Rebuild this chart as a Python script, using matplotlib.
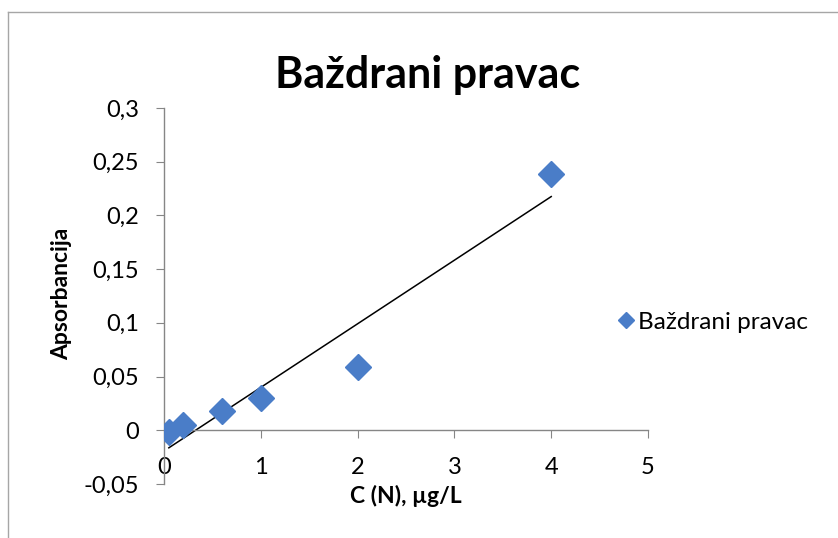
import numpy as np
import matplotlib
matplotlib.use("Agg")
import matplotlib.pyplot as plt
from matplotlib.ticker import FuncFormatter
from matplotlib.lines import Line2D

plt.rcParams['font.family'] = ['Lato', 'DejaVu Sans']

# 1) Dados da curva
koncentracija = [0.05, 0.2, 0.6, 1.0, 2.0, 4.0]
apsorbancija = [-0.002, 0.005, 0.018, 0.030, 0.059, 0.239]
x_ticks = [0, 1, 2, 3, 4, 5]
y_ticks = [-0.05, 0, 0.05, 0.1, 0.15, 0.2, 0.25, 0.3]

naslov = "Baždrani pravac"
x_label = "C (N), µg/L"
y_label = "Apsorbancija"

plava = "#4A7DC8"
siva = "#868686"

# 2) Linearni trend (kao u Excelu)
k, b = np.polyfit(koncentracija, apsorbancija, 1)
x_trend = np.array([min(koncentracija), max(koncentracija)])
y_trend = k * x_trend + b

# 3) Grafikon
fig = plt.figure(figsize=(8.38, 5.38), dpi=100)
ax = fig.add_axes([0.1957, 0.1004, 0.5776, 0.6989])

ax.plot(x_trend, y_trend, color="black", lw=1.1, zorder=2)
ax.plot(koncentracija, apsorbancija, linestyle="none", marker="D",
        ms=13, color=plava, markeredgecolor=plava, zorder=3)

ax.set_xlim(0, 5)
ax.set_ylim(-0.05, 0.3)
ax.set_xticks(x_ticks)
ax.set_yticks(y_ticks)

fmt = FuncFormatter(lambda v, p: f"{v:g}".replace(".", ","))
ax.yaxis.set_major_formatter(fmt)
ax.xaxis.set_major_formatter(fmt)

ax.spines["top"].set_visible(False)
ax.spines["right"].set_visible(False)
ax.spines["bottom"].set_position(("data", 0))
for s in ["left", "bottom"]:
    ax.spines[s].set_color(siva)
    ax.spines[s].set_linewidth(1)

ax.tick_params(axis="y", direction="out", length=6, color=siva,
               labelsize=17, pad=12)
ax.tick_params(axis="x", direction="out", length=6, color=siva,
               labelsize=17, pad=13)

fig.text(406 / 838, 1 - 496 / 538, x_label, ha="center", va="center",
         fontsize=16.5, fontweight="bold")
fig.text(62 / 838, 1 - 294 / 538, y_label, ha="center", va="center",
         rotation=90, fontsize=16.5, fontweight="bold")
fig.text(428 / 838, 1 - 75 / 538, naslov, ha="center", va="center",
         fontsize=31, fontweight="bold")

# 4) Legenda
handle = Line2D([], [], linestyle="none", marker="D", ms=8,
                color=plava, markeredgecolor=plava)
fig.legend([handle], [naslov], loc="center left",
           bbox_to_anchor=(619 / 838, 1 - 322 / 538), frameon=False,
           fontsize=17.5, handlelength=0.6, handletextpad=0.2,
           borderpad=0, borderaxespad=0)

# 5) Okvir grafikona
fig.add_artist(Line2D([8 / 838, 8 / 838], [0, 1 - 12 / 538],
                      color="#a6a6a6", lw=1))
fig.add_artist(Line2D([8 / 838, 1], [1 - 12 / 538, 1 - 12 / 538],
                      color="#a6a6a6", lw=1))

fig.savefig("out.png", dpi=100)
plt.close()
